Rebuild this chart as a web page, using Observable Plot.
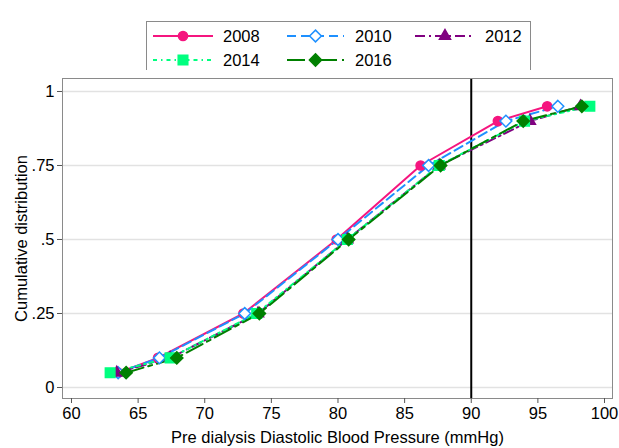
<!DOCTYPE html>
<html>
<head>
<meta charset="utf-8">
<script src="https://cdn.jsdelivr.net/npm/d3@7"></script>
<script src="https://cdn.jsdelivr.net/npm/@observablehq/plot@0.6"></script>
<style>
  body { margin: 0; background: #fff; }
  #wrap { width: 619px; height: 448px; position: relative; font-family: "Liberation Sans", Arial, sans-serif; }
  #legend { display: block; }
</style>
</head>
<body>
<div id="wrap"></div>
<script>
// Cumulative distribution points (quantiles) of pre-dialysis diastolic BP by year
const quantiles = [0.05, 0.1, 0.25, 0.5, 0.75, 0.9, 0.95];
const years = ["2008", "2010", "2012", "2014", "2016"];
const dbp2008 = [63.5, 66.5, 72.9, 79.9, 86.2, 92.0, 95.7];
const dbp2010 = [63.5, 66.6, 73.0, 80.0, 86.8, 92.6, 96.5];
const dbp2012 = [63.4, 67.4, 74.0, 80.7, 87.6, 94.4, 98.2];
const dbp2014 = [62.9, 67.4, 73.9, 80.7, 87.6, 94.0, 98.9];
const dbp2016 = [64.1, 67.9, 74.1, 80.8, 87.7, 93.9, 98.3];
const xTicks = [60, 65, 70, 75, 80, 85, 90, 95, 100];
const yTicks = [0, 0.25, 0.5, 0.75, 1];
const yTickLabels = ["0", ".25", ".5", ".75", "1"];
const refLine = [90];

const seriesValues = [dbp2008, dbp2010, dbp2012, dbp2014, dbp2016];
const styles = {
  "2008": {color: "#f5157f", dash: null, symbol: "circle", fill: "#f5157f", r: 4.6},
  "2010": {color: "#1e90ff", dash: "9,5", symbol: "diamond2", fill: "white", r: 5.3},
  "2012": {color: "#800080", dash: "10,4,2,4", symbol: "triangle", fill: "#800080", r: 4.1},
  "2014": {color: "#00ff7f", dash: "4,4,1.5,4", symbol: "square", fill: "#00ff7f", r: 5.4},
  "2016": {color: "#008000", dash: "18,5,4,5", symbol: "diamond2", fill: "#008000", r: 5.5}
};

const rows = [];
years.forEach((yr, i) => {
  seriesValues[i].forEach((v, j) => rows.push({year: yr, x: v, p: quantiles[j]}));
});

const font = '"Liberation Sans", Arial, sans-serif';
const wrap = document.getElementById("wrap");

// Legend (HTML-side SVG)
const lg = d3.create("svg").attr("id", "legend").attr("width", 619).attr("height", 70)
  .style("font-family", font);
lg.append("rect").attr("x", 146.5).attr("y", 21.5).attr("width", 384).attr("height", 52)
  .attr("fill", "white").attr("stroke", "#8a8a8a").attr("stroke-width", 1);
const legendPos = [
  {x0: 153, x1: 213, tx: 223, y: 36},
  {x0: 287, x1: 344, tx: 355, y: 36},
  {x0: 415, x1: 475, tx: 485, y: 36},
  {x0: 153, x1: 213, tx: 223, y: 60},
  {x0: 287, x1: 344, tx: 355, y: 60}
];
const symMap = {circle: d3.symbolCircle, diamond2: d3.symbolDiamond2, triangle: d3.symbolTriangle, square: d3.symbolSquare};
years.forEach((yr, i) => {
  const s = styles[yr], p = legendPos[i];
  const line = lg.append("line").attr("x1", p.x0).attr("x2", p.x1).attr("y1", p.y).attr("y2", p.y)
    .attr("stroke", s.color).attr("stroke-width", 2);
  if (s.dash) line.attr("stroke-dasharray", s.dash);
  const cx = (p.x0 + p.x1) / 2;
  lg.append("path").attr("transform", `translate(${cx},${p.y})`)
    .attr("d", d3.symbol(symMap[s.symbol], Math.PI * s.r * s.r)())
    .attr("fill", s.fill).attr("stroke", s.color).attr("stroke-width", 1.5);
  lg.append("text").attr("x", p.tx).attr("y", p.y).attr("dy", "0.35em")
    .attr("font-size", 16.5).attr("fill", "#000").text(yr);
});
wrap.appendChild(lg.node());

const marks = [
  Plot.gridY(yTicks, {stroke: "#e2e2e2", strokeOpacity: 1, strokeWidth: 1.5}),
  Plot.ruleX(refLine, {stroke: "black", strokeWidth: 2})
];
years.forEach(yr => {
  const s = styles[yr];
  const d = rows.filter(r => r.year === yr);
  marks.push(Plot.line(d, {x: "x", y: "p", stroke: s.color, strokeWidth: 2, strokeDasharray: s.dash || undefined}));
});
years.forEach(yr => {
  const s = styles[yr];
  const d = rows.filter(r => r.year === yr);
  marks.push(Plot.dot(d, {x: "x", y: "p", symbol: () => s.symbol, r: s.r, fill: s.fill, stroke: s.color, strokeWidth: 1.5}));
});
marks.push(
  Plot.frame({stroke: "#8a8a8a", strokeWidth: 1}),
  Plot.axisX({ticks: xTicks, tickSize: 5, tickPadding: 4, label: "Pre dialysis Diastolic Blood Pressure (mmHg)",
    labelAnchor: "center", labelArrow: "none", labelOffset: 44, fill: "black", stroke: "#555"}),
  Plot.axisY({ticks: yTicks, tickSize: 5, tickPadding: 3, tickFormat: (d, i) => yTickLabels[yTicks.indexOf(d)],
    label: "Cumulative distribution", labelAnchor: "center", labelArrow: "none", labelOffset: 47, fill: "black", stroke: "#555"})
);

const chart = Plot.plot({
  width: 619,
  height: 378,
  marginTop: 8,
  marginBottom: 50,
  marginLeft: 62,
  marginRight: 7,
  style: {fontFamily: font, fontSize: "16.5px", color: "black", background: "white"},
  x: {domain: [59.325, 100.6]},
  y: {domain: [-0.0372, 1.0439]},
  symbol: {type: "identity"},
  marks
});
chart.style.display = "block";
wrap.appendChild(chart);
</script>
</body>
</html>
